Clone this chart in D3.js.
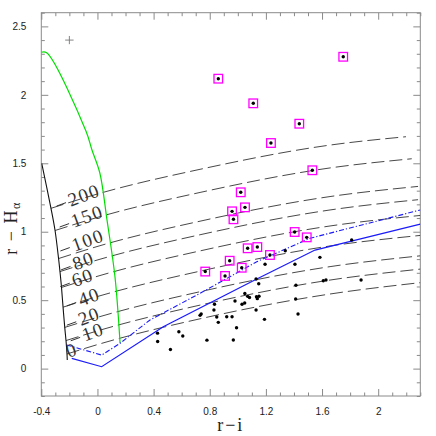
<!DOCTYPE html>
<html><head><meta charset="utf-8">
<script src="https://cdn.jsdelivr.net/npm/d3@7"></script>
<style>body{margin:0;background:#fff}svg{display:block}</style>
</head><body>
<svg id="c" width="436" height="436"></svg>
<script>
// ---------- data ----------
const xTickValues = [-0.4, 0, 0.4, 0.8, 1.2, 1.6, 2];
const xTickLabels = ["-0.4", "0", "0.4", "0.8", "1.2", "1.6", "2"];
const yTickValues = [0, 0.5, 1, 1.5, 2, 2.5];
const yTickLabels = ["0", "0.5", "1", "1.5", "2", "2.5"];

const ewLabels = ["200", "150", "100", "80", "60", "40", "20", "10", "0"];
const ewLabelAnchorX = [-0.096, -0.074, -0.069, -0.101, -0.106, -0.060, -0.060, -0.032, -0.183];
const ewLabelAnchorY = [1.268, 1.115, 0.940, 0.788, 0.666, 0.525, 0.384, 0.270, 0.136];

const ew200 = [[-0.331,1.171],[0.018,1.281],[0.731,1.456],[1.657,1.633],[2.198,1.694]];
const ew150 = [[-0.302,1.009],[0.018,1.110],[0.731,1.287],[1.657,1.466],[2.239,1.533]];
const ew100 = [[-0.277,0.804],[0.018,0.898],[0.731,1.077],[1.657,1.257],[2.284,1.331]];
const ew80  = [[-0.267,0.709],[0.018,0.799],[0.731,0.978],[1.657,1.159],[2.284,1.234]];
const ew60  = [[-0.256,0.593],[0.018,0.680],[0.731,0.860],[1.657,1.042],[2.300,1.119]];
const ew40  = [[-0.245,0.449],[0.018,0.532],[0.731,0.712],[1.657,0.896],[2.300,0.973]];
const ew20  = [[-0.233,0.301],[0.018,0.380],[0.731,0.562],[1.657,0.745],[2.300,0.824]];
const ew10  = [[-0.224,0.205],[0.018,0.281],[0.731,0.464],[1.657,0.647],[2.300,0.727]];
const ew0   = [[-0.217,0.107],[0.018,0.181],[0.731,0.364],[1.657,0.545],[2.300,0.628]];
const ewLines = [ew200, ew150, ew100, ew80, ew60, ew40, ew20, ew10, ew0];

const unreddenedEW = [[-0.397,1.500],[-0.331,1.171],[-0.302,1.009],[-0.277,0.804],[-0.267,0.709],
  [-0.256,0.593],[-0.245,0.449],[-0.233,0.301],[-0.224,0.205],[-0.217,0.107],[-0.215,0.063]];

const greenTrack = [[-0.400,2.311],[-0.362,2.308],[-0.082,1.736],[-0.039,1.597],[0.017,1.429],
  [0.068,1.086],[0.125,0.669],[0.161,0.187]];

const blueSolid = [[-0.183,0.075],[0.030,0.014],[0.469,0.306],[1.135,0.655],[1.550,0.866],[2.300,1.056]];
const blueDashDot = [[-0.219,0.173],[0.030,0.099],[0.161,0.185],[0.374,0.355],[0.731,0.550],
  [1.135,0.781],[1.514,0.952],[2.300,1.159]];

const starsRI = [0.428,0.429,0.520,0.580,0.608,0.731,0.739,0.780,0.834,0.830,0.850,0.861,0.921,0.959,
  0.968,0.991,0.980,1.030,1.049,1.050,1.070,1.083,1.133,1.151,1.139,1.130,1.130,1.149,1.194,1.190,
  1.338,1.407,1.414,1.412,1.429,1.585,1.609,1.628,1.811,1.878];
const starsRHa = [0.259,0.198,0.140,0.269,0.238,0.389,0.399,0.208,0.470,0.428,0.377,0.338,0.379,0.379,
  0.209,0.299,0.494,0.470,0.479,0.549,0.528,0.520,0.525,0.529,0.511,0.428,0.655,0.620,0.762,0.360,
  0.861,0.762,0.609,0.509,0.399,0.813,0.642,0.647,0.940,0.647];

const emittersRI = [0.861,1.110,1.438,1.236,1.751,1.531,1.021,1.051,0.959,0.969,1.405,1.491,1.070,
  1.139,1.229,0.942,1.028,0.909,0.768];
const emittersRHa = [2.118,1.938,1.789,1.648,2.278,1.449,1.288,1.178,1.149,1.091,0.998,0.959,0.879,
  0.888,0.830,0.788,0.737,0.677,0.709];

const errorBarPos = [-0.2, 2.4];
const errorBarSize = [0.03, 0.03];

// ---------- layout ----------
const L = 41.3, R = 420.3, T = 12.7, B = 396;
const svg = d3.select("#c");
const x = d3.scaleLinear().domain([-0.4, 2.3]).range([L, R]);
const y = d3.scaleLinear().domain([-0.2, 2.6]).range([B, T]);

const minorX = d3.range(-4, 24).map(d => d / 10).filter(v => !xTickValues.some(t => Math.abs(t - v) < 1e-6));
const minorY = d3.range(-2, 27).map(d => d / 10).filter(v => !yTickValues.some(t => Math.abs(t - v) < 1e-6));

const axisCol = "#8a8a8a";
function styleAxis(g) {
  g.select(".domain").remove();
  g.selectAll(".tick line").attr("stroke", axisCol).attr("stroke-width", 1);
  g.selectAll(".tick text").attr("fill", "#222").style("font-family", "'Liberation Sans', Arial, sans-serif").style("font-size", "10px");
}
svg.append("g").attr("transform", `translate(0,${B})`)
  .call(d3.axisBottom(x).tickValues(xTickValues).tickSize(-7).tickPadding(12).tickFormat((d, i) => xTickLabels[i]))
  .call(styleAxis);
svg.append("g").attr("transform", `translate(0,${B})`)
  .call(d3.axisBottom(x).tickValues(minorX).tickSize(-3.5).tickFormat(""))
  .call(styleAxis);
svg.append("g").attr("transform", `translate(0,${T})`)
  .call(d3.axisTop(x).tickValues(xTickValues).tickSize(-7).tickFormat(""))
  .call(styleAxis);
svg.append("g").attr("transform", `translate(0,${T})`)
  .call(d3.axisTop(x).tickValues(minorX).tickSize(-3.5).tickFormat(""))
  .call(styleAxis);
svg.append("g").attr("transform", `translate(${L},0)`)
  .call(d3.axisLeft(y).tickValues(yTickValues).tickSize(-7).tickPadding(15).tickFormat((d, i) => yTickLabels[i]))
  .call(styleAxis);
svg.append("g").attr("transform", `translate(${L},0)`)
  .call(d3.axisLeft(y).tickValues(minorY).tickSize(-3.5).tickFormat(""))
  .call(styleAxis);
svg.append("g").attr("transform", `translate(${R},0)`)
  .call(d3.axisRight(y).tickValues(yTickValues).tickSize(-7).tickFormat(""))
  .call(styleAxis);
svg.append("g").attr("transform", `translate(${R},0)`)
  .call(d3.axisRight(y).tickValues(minorY).tickSize(-3.5).tickFormat(""))
  .call(styleAxis);

svg.append("rect").attr("x", L).attr("y", T).attr("width", R - L).attr("height", B - T)
  .attr("fill", "none").attr("stroke", axisCol).attr("stroke-width", 1);

svg.append("clipPath").attr("id", "pc").append("rect")
  .attr("x", L).attr("y", T).attr("width", R - L).attr("height", B - T);
const plot = svg.append("g").attr("clip-path", "url(#pc)");

const lineSmooth = d3.line().x(d => x(d[0])).y(d => y(d[1])).curve(d3.curveMonotoneX);
const lineLin = d3.line().x(d => x(d[0])).y(d => y(d[1]));
const lineCR = d3.line().x(d => x(d[0])).y(d => y(d[1])).curve(d3.curveCatmullRom.alpha(0.5));

plot.selectAll("path.ew").data(ewLines).enter().append("path").attr("class", "ew")
  .attr("d", lineSmooth).attr("fill", "none").attr("stroke", "#333").attr("stroke-width", 0.9)
  .attr("stroke-dasharray", "13,5");

plot.append("path").attr("d", lineCR(unreddenedEW)).attr("fill", "none").attr("stroke", "#111").attr("stroke-width", 1.1);
plot.append("path").attr("d", lineCR(greenTrack)).attr("fill", "none").attr("stroke", "#00e000").attr("stroke-width", 1.2);
plot.append("path").attr("d", lineLin(blueSolid)).attr("fill", "none").attr("stroke", "#1a1aff").attr("stroke-width", 1.2);
plot.append("path").attr("d", lineLin(blueDashDot)).attr("fill", "none").attr("stroke", "#1a1aff").attr("stroke-width", 1.1)
  .attr("stroke-dasharray", "5,2,1.2,2");

const lab = svg.append("g");
ewLabels.forEach((t, i) => {
  const g = lab.append("g").attr("transform", `translate(${x(ewLabelAnchorX[i])},${y(ewLabelAnchorY[i])}) rotate(-20)`);
  const tx = g.append("text").text(t).attr("text-anchor", "middle").attr("dominant-baseline", "central")
    .style("font-family", "'Liberation Serif', 'Times New Roman', serif").style("font-size", "19px")
    .style("letter-spacing", "1.5px").attr("fill", "#333");
  if (t.length > 1) {
    const w = tx.node().getComputedTextLength();
    g.append("line").attr("x1", -w / 2 - 13).attr("x2", -w / 2 - 3).attr("y1", 1).attr("y2", 1)
      .attr("stroke", "#333").attr("stroke-width", 0.9);
  }
});

const starData = starsRI.map((v, i) => [v, starsRHa[i]]);
const emData = emittersRI.map((v, i) => [v, emittersRHa[i]]);
plot.selectAll("rect.em").data(emData).enter().append("rect").attr("class", "em")
  .attr("x", d => x(d[0]) - 4.3).attr("y", d => y(d[1]) - 4.3).attr("width", 8.6).attr("height", 8.6)
  .attr("fill", "none").attr("stroke", "#ff00ff").attr("stroke-width", 1.3);
plot.selectAll("circle.em").data(emData).enter().append("circle").attr("class", "em")
  .attr("cx", d => x(d[0])).attr("cy", d => y(d[1])).attr("r", 1.7).attr("fill", "#000");
plot.selectAll("circle.st").data(starData).enter().append("circle").attr("class", "st")
  .attr("cx", d => x(d[0])).attr("cy", d => y(d[1])).attr("r", 1.7).attr("fill", "#000");

const eb = plot.append("g").attr("stroke", "#777").attr("stroke-width", 0.9);
eb.append("line").attr("x1", x(errorBarPos[0] - errorBarSize[0])).attr("x2", x(errorBarPos[0] + errorBarSize[0]))
  .attr("y1", y(errorBarPos[1])).attr("y2", y(errorBarPos[1]));
eb.append("line").attr("x1", x(errorBarPos[0])).attr("x2", x(errorBarPos[0]))
  .attr("y1", y(errorBarPos[1] - errorBarSize[1])).attr("y2", y(errorBarPos[1] + errorBarSize[1]));

svg.append("text").attr("x", (L + R) / 2).attr("y", 431).attr("text-anchor", "middle")
  .style("font-family", "'Liberation Serif', 'Times New Roman', serif").style("font-size", "18px")
  .style("letter-spacing", "2px").attr("fill", "#222").text("r−i");
const yt = svg.append("text").attr("transform", "translate(17,228) rotate(-90)").attr("text-anchor", "middle")
  .style("font-family", "'Liberation Serif', 'Times New Roman', serif").style("font-size", "18px")
  .style("letter-spacing", "1.5px").attr("fill", "#222");
yt.append("tspan").text("r − H");
yt.append("tspan").attr("dy", 3).style("font-size", "12px").text("α");
</script>
</body></html>
